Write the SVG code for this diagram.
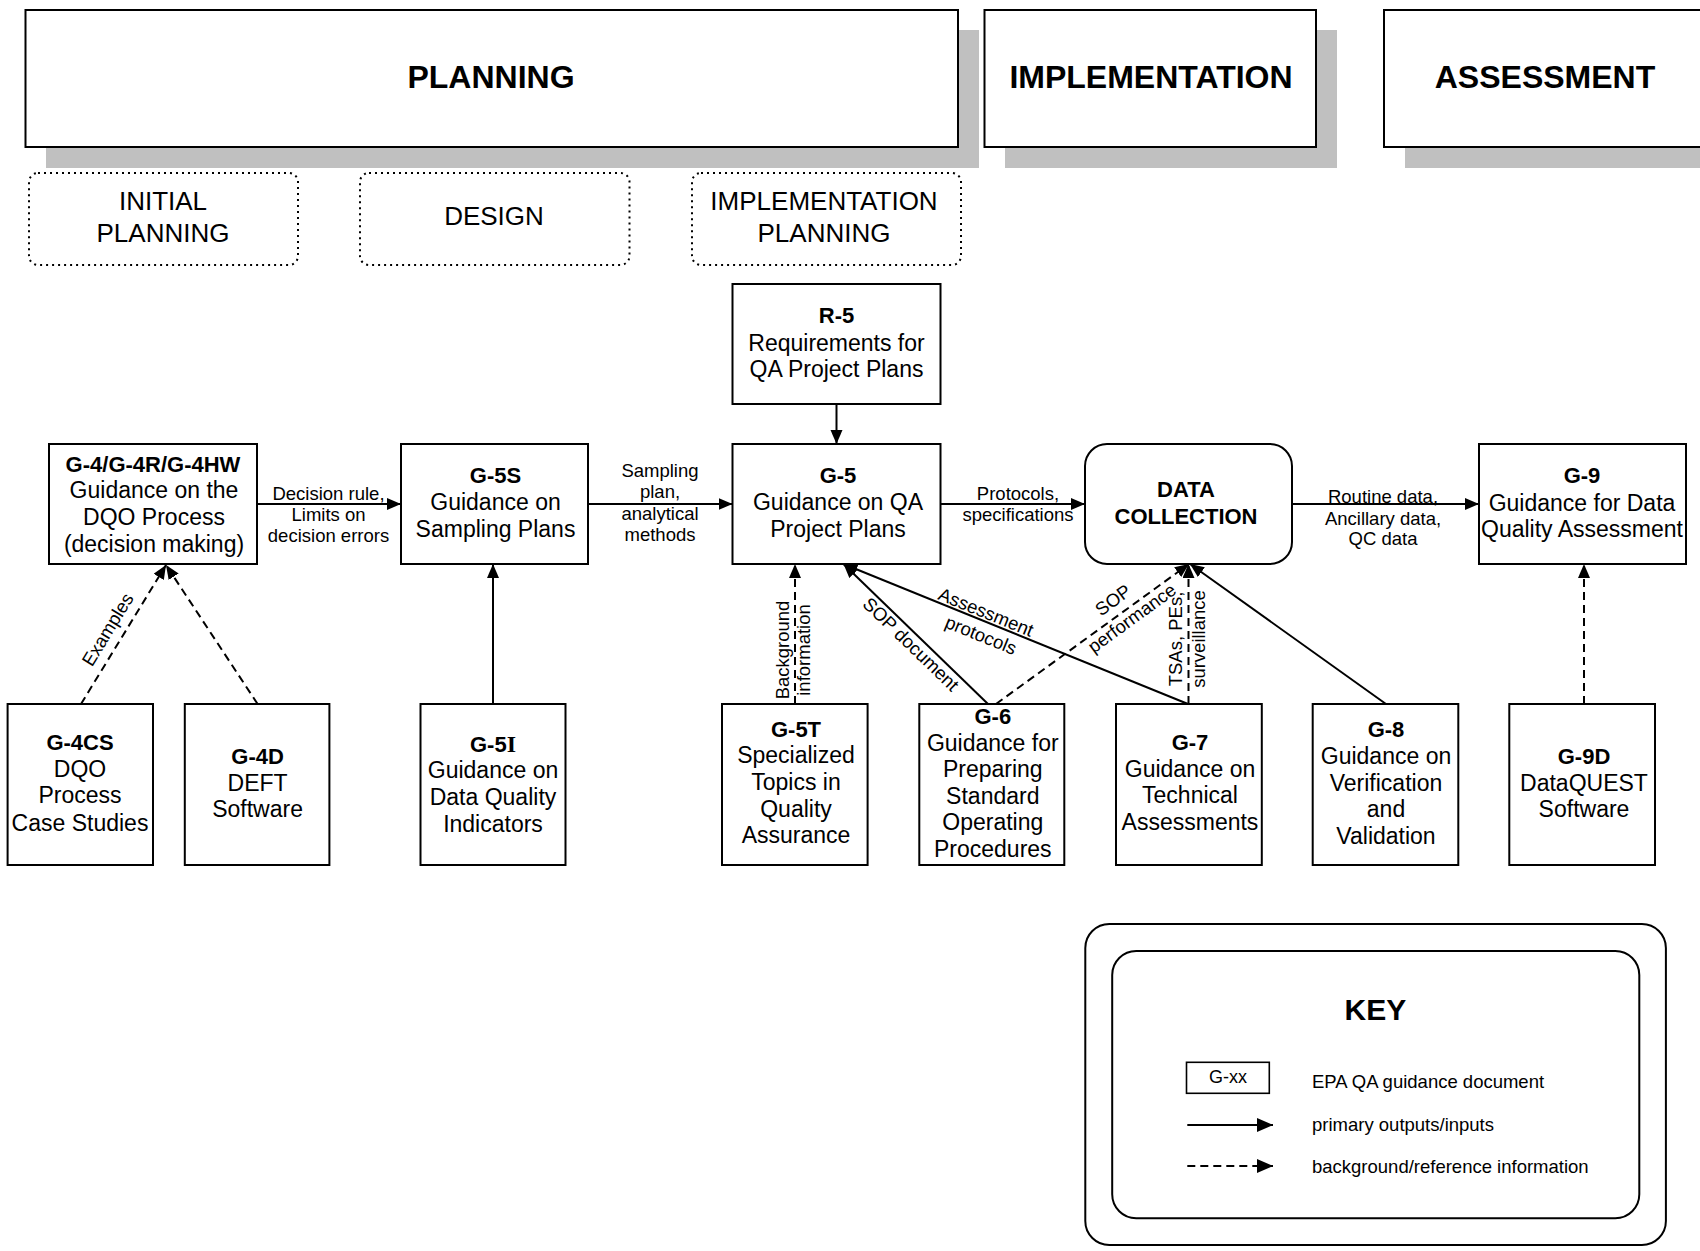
<svg xmlns="http://www.w3.org/2000/svg" width="1700" height="1251" viewBox="0 0 1700 1251">
<style>
.box{fill:#fff;stroke:#000;stroke-width:2}
.shadow{fill:#c0c0c0}
.dot{fill:#fff;stroke:#000;stroke-width:2;stroke-dasharray:2 4}
text{font-family:"Liberation Sans",Arial,Helvetica,sans-serif;fill:#000}
.t{font-size:23px;text-anchor:middle}
.b{font-size:22px;font-weight:bold;text-anchor:middle}
.hdr{font-size:32px;font-weight:bold;text-anchor:middle}
.sub{font-size:26px;text-anchor:middle}
.lbl{font-size:18.5px;text-anchor:middle}
.key{font-size:18.5px}
.c{stroke:#000;stroke-width:2;fill:none;marker-end:url(#ah)}
.d{stroke-dasharray:8 5}
</style>
<defs>
<marker id="ah" markerUnits="userSpaceOnUse" markerWidth="15" markerHeight="13" refX="14" refY="6" orient="auto" viewBox="0 0 15 13">
<path d="M0,0 L14,6 L0,12 z" fill="#000"/>
</marker>
<marker id="ahL" markerUnits="userSpaceOnUse" markerWidth="17" markerHeight="15" refX="16" refY="7" orient="auto" viewBox="0 0 17 15">
<path d="M0,0 L16,7 L0,14 z" fill="#000"/>
</marker>
</defs>
<rect width="1700" height="1251" fill="#fff"/>

<g id="phase-planning">
<rect class="shadow" x="46" y="30" width="933" height="138"/>
<rect class="box" x="25.5" y="10" width="932.5" height="137"/>
<text class="hdr" x="491" y="88.3">PLANNING</text>
</g>
<g id="phase-implementation">
<rect class="shadow" x="1005" y="30" width="332" height="138"/>
<rect class="box" x="984.5" y="10" width="331.5" height="137"/>
<text class="hdr" x="1151" y="88.3">IMPLEMENTATION</text>
</g>
<g id="phase-assessment">
<rect class="shadow" x="1405" y="30" width="320" height="138"/>
<rect class="box" x="1384" y="10" width="330" height="137"/>
<text class="hdr" x="1545" y="88.3">ASSESSMENT</text>
</g>

<g id="sub-initial">
<rect class="dot" x="29" y="173" width="269" height="92" rx="9"/>
<text class="sub" x="163" y="210">INITIAL</text>
<text class="sub" x="163" y="241.7">PLANNING</text>
</g>
<g id="sub-design">
<rect class="dot" x="360" y="173" width="269.5" height="92" rx="9"/>
<text class="sub" x="494" y="225">DESIGN</text>
</g>
<g id="sub-implplanning">
<rect class="dot" x="692" y="173" width="269" height="92" rx="9"/>
<text class="sub" x="824" y="210">IMPLEMENTATION</text>
<text class="sub" x="824" y="241.7">PLANNING</text>
</g>

<g id="connectors">
<line class="c" x1="257" y1="504" x2="401" y2="504"/>
<line class="c" x1="588" y1="504" x2="732.5" y2="504"/>
<line class="c" x1="940.5" y1="504" x2="1085" y2="504"/>
<line class="c" x1="1292" y1="504" x2="1479" y2="504"/>
<line class="c" x1="836.5" y1="404" x2="836.5" y2="444"/>
<line class="c" x1="493" y1="704" x2="493" y2="564"/>
<line class="c d" x1="81" y1="704" x2="166" y2="565"/>
<line class="c d" x1="257.6" y1="704" x2="166" y2="565"/>
<line class="c d" x1="795" y1="704" x2="795" y2="564"/>
<line class="c" x1="988" y1="704" x2="843.5" y2="564"/>
<line class="c" x1="1188" y1="704" x2="843.5" y2="564"/>
<line class="c d" x1="996" y1="704" x2="1189" y2="564"/>
<line class="c d" x1="1188.5" y1="704" x2="1188.5" y2="564"/>
<line class="c" x1="1386" y1="704" x2="1190" y2="564"/>
<line class="c d" x1="1584" y1="704" x2="1584" y2="564"/>

<text class="lbl" x="328.5" y="500">Decision rule,</text>
<text class="lbl" x="328.5" y="520.7">Limits on</text>
<text class="lbl" x="328.5" y="541.7">decision errors</text>
<text class="lbl" x="660" y="476.7">Sampling</text>
<text class="lbl" x="660" y="498.3">plan,</text>
<text class="lbl" x="660" y="520">analytical</text>
<text class="lbl" x="660" y="540.7">methods</text>
<text class="lbl" x="1018" y="500">Protocols,</text>
<text class="lbl" x="1018" y="520.7">specifications</text>
<text class="lbl" x="1383" y="503.3">Routine data,</text>
<text class="lbl" x="1383" y="525">Ancillary data,</text>
<text class="lbl" x="1383" y="545">QC data</text>

<g transform="translate(125.9,630) rotate(-58.7)"><text class="lbl" x="-9" y="-9.5">Examples</text></g>
<g transform="translate(795,650) rotate(-90)">
<text class="lbl" x="0" y="-6.1">Background</text>
<text class="lbl" x="0" y="14.5">information</text>
</g>
<g transform="translate(926.1,644) rotate(44.1)"><text class="lbl" x="-10.8" y="17">SOP document</text></g>
<g transform="translate(983.5,620.9) rotate(22.1)">
<text class="lbl" x="-1" y="-2.7">Assessment</text>
<text class="lbl" x="3" y="20.5">protocols</text>
</g>
<g transform="translate(1123,611.4) rotate(-36.1)">
<text class="lbl" x="-1.4" y="-8.6">SOP</text>
<text class="lbl" x="3.2" y="17">performance</text>
</g>
<g transform="translate(1188.3,639) rotate(-90)">
<text class="lbl" x="0" y="-6.1">TSAs, PEs,</text>
<text class="lbl" x="0" y="17.2">surveillance</text>
</g>
</g>

<g id="R-5">
<rect class="box" x="732.5" y="284" width="208" height="120"/>
<text class="b" x="836.5" y="323.3">R-5</text>
<text class="t" x="836.5" y="351">Requirements for</text>
<text class="t" x="836.5" y="377.3">QA Project Plans</text>
</g>
<g id="G-4">
<rect class="box" x="49" y="444" width="208" height="120"/>
<text class="b" x="153" y="471.7">G-4/G-4R/G-4HW</text>
<text class="t" x="154" y="498.3">Guidance on the</text>
<text class="t" x="154" y="525">DQO Process</text>
<text class="t" x="154" y="551.7">(decision making)</text>
</g>
<g id="G-5S">
<rect class="box" x="401" y="444" width="187" height="120"/>
<text class="b" x="495.5" y="483.3">G-5S</text>
<text class="t" x="495.5" y="510">Guidance on</text>
<text class="t" x="495.5" y="536.7">Sampling Plans</text>
</g>
<g id="G-5">
<rect class="box" x="732.5" y="444" width="208" height="120"/>
<text class="b" x="838" y="483.3">G-5</text>
<text class="t" x="838" y="510">Guidance on QA</text>
<text class="t" x="838" y="536.7">Project Plans</text>
</g>
<g id="data-collection">
<rect class="box" x="1085" y="444" width="207" height="120" rx="22"/>
<text class="b" x="1186" y="497.3">DATA</text>
<text class="b" x="1186" y="524">COLLECTION</text>
</g>
<g id="G-9">
<rect class="box" x="1479" y="444" width="207" height="120"/>
<text class="b" x="1582" y="483.3">G-9</text>
<text class="t" x="1582" y="510.7">Guidance for Data</text>
<text class="t" x="1582" y="537.3">Quality Assessment</text>
</g>
<g id="G-4CS">
<rect class="box" x="7.6" y="704" width="145.4" height="161"/>
<text class="b" x="80" y="750">G-4CS</text>
<text class="t" x="80" y="776.7">DQO</text>
<text class="t" x="80" y="803.3">Process</text>
<text class="t" x="80" y="830.7">Case Studies</text>
</g>
<g id="G-4D">
<rect class="box" x="184.8" y="704" width="144.6" height="161"/>
<text class="b" x="257.6" y="764">G-4D</text>
<text class="t" x="257.6" y="790.7">DEFT</text>
<text class="t" x="257.6" y="817.3">Software</text>
</g>
<g id="G-5I">
<rect class="box" x="420.5" y="704" width="145" height="161"/>
<text class="b" x="493" y="752.3">G-5<tspan font-family="'Liberation Serif',serif" font-size="24">I</tspan></text>
<text class="t" x="493" y="778.3">Guidance on</text>
<text class="t" x="493" y="805">Data Quality</text>
<text class="t" x="493" y="831.7">Indicators</text>
</g>
<g id="G-5T">
<rect class="box" x="722" y="704" width="145.6" height="161"/>
<text class="b" x="796" y="736.7">G-5T</text>
<text class="t" x="796" y="763.3">Specialized</text>
<text class="t" x="796" y="790">Topics in</text>
<text class="t" x="796" y="816.7">Quality</text>
<text class="t" x="796" y="843.3">Assurance</text>
</g>
<g id="G-6">
<rect class="box" x="919.3" y="704" width="145" height="161"/>
<text class="b" x="992.8" y="724">G-6</text>
<text class="t" x="992.8" y="750.5">Guidance for</text>
<text class="t" x="992.8" y="777">Preparing</text>
<text class="t" x="992.8" y="803.5">Standard</text>
<text class="t" x="992.8" y="830">Operating</text>
<text class="t" x="992.8" y="856.5">Procedures</text>
</g>
<g id="G-7">
<rect class="box" x="1116" y="704" width="145.8" height="161"/>
<text class="b" x="1190" y="750">G-7</text>
<text class="t" x="1190" y="776.7">Guidance on</text>
<text class="t" x="1190" y="803.3">Technical</text>
<text class="t" x="1190" y="830">Assessments</text>
</g>
<g id="G-8">
<rect class="box" x="1312.7" y="704" width="145.6" height="161"/>
<text class="b" x="1386" y="736.7">G-8</text>
<text class="t" x="1386" y="764">Guidance on</text>
<text class="t" x="1386" y="790.7">Verification</text>
<text class="t" x="1386" y="817.3">and</text>
<text class="t" x="1386" y="844">Validation</text>
</g>
<g id="G-9D">
<rect class="box" x="1509.3" y="704" width="145.7" height="161"/>
<text class="b" x="1584" y="764">G-9D</text>
<text class="t" x="1584" y="790.7">DataQUEST</text>
<text class="t" x="1584" y="817.3">Software</text>
</g>

<g id="key">
<rect class="box" x="1085.3" y="924" width="580.6" height="321" rx="24"/>
<rect class="box" x="1112.2" y="951" width="527.1" height="267.3" rx="24"/>
<text class="hdr" x="1375.4" y="1020" style="font-size:30px">KEY</text>
<rect x="1186.5" y="1062.3" width="82.8" height="31" fill="#fff" stroke="#000" stroke-width="1.6"/>
<text x="1228" y="1082.7" style="font-size:18px;text-anchor:middle">G-xx</text>
<text class="key" x="1312" y="1088.3">EPA QA guidance document</text>
<line x1="1187.3" y1="1125" x2="1273" y2="1125" stroke="#000" stroke-width="2" marker-end="url(#ahL)"/>
<text class="key" x="1312" y="1131">primary outputs/inputs</text>
<line x1="1187.3" y1="1166" x2="1273" y2="1166" stroke="#000" stroke-width="2" stroke-dasharray="8 5" marker-end="url(#ahL)"/>
<text class="key" x="1312" y="1173.3">background/reference information</text>
</g>
</svg>
